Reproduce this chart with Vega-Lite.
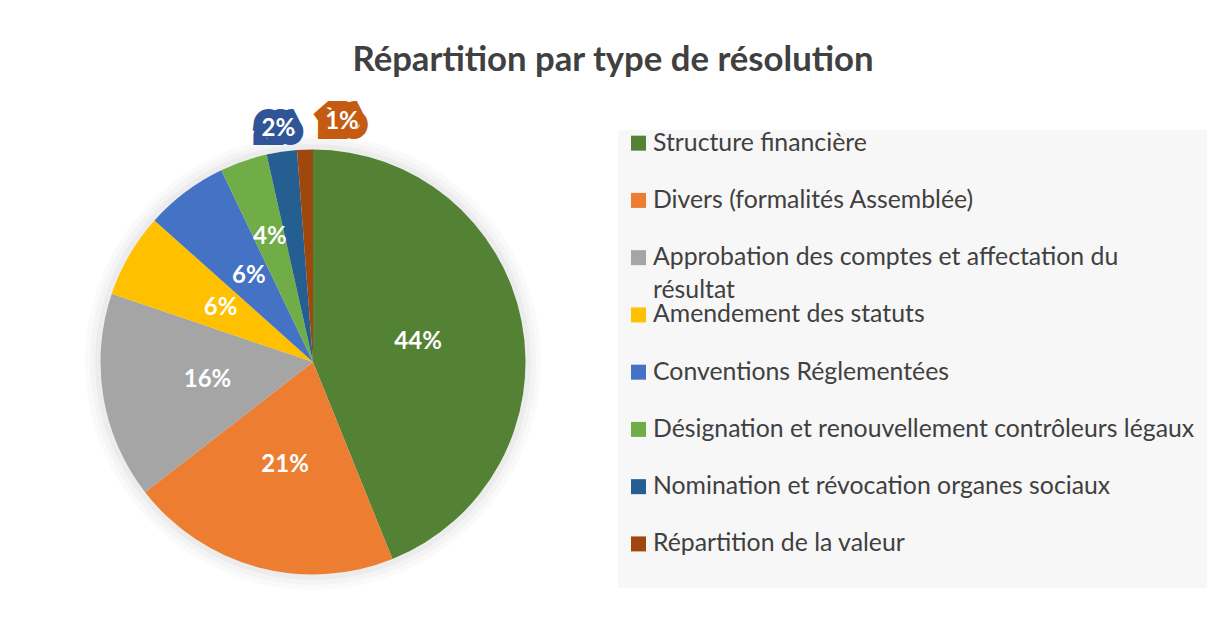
{
  "$schema": "https://vega.github.io/schema/vega-lite/v6.json",
  "background": "white",
  "padding": {"left": 19, "top": 43, "right": 0, "bottom": 0},
  "title": {"text": "Répartition par type de résolution", "font": "Lato", "fontSize": 34.7, "fontWeight": "bold", "color": "#404040", "anchor": "middle", "offset": 31},
  "data": {"values": [
    {"type": "Structure financière", "value": 43.9, "label": "44%", "legend": "Structure financière"},
    {"type": "Divers (formalités Assemblée)", "value": 20.6, "label": "21%", "legend": "Divers (formalités Assemblée)"},
    {"type": "Approbation des comptes et affectation du résultat", "value": 15.7, "label": "16%", "legend": "Approbation des comptes et affectation du\nrésultat"},
    {"type": "Amendement des statuts", "value": 6.4, "label": "6%", "legend": "Amendement des statuts"},
    {"type": "Conventions Réglementées", "value": 6.3, "label": "6%", "legend": "Conventions Réglementées"},
    {"type": "Désignation et renouvellement contrôleurs légaux", "value": 3.6, "label": "4%", "legend": "Désignation et renouvellement contrôleurs légaux"},
    {"type": "Nomination et révocation organes sociaux", "value": 2.3, "label": "2%", "legend": "Nomination et révocation organes sociaux"},
    {"type": "Répartition de la valeur", "value": 1.2, "label": "1%", "legend": "Répartition de la valeur"}
  ]},
  "bounds": "flush",
  "spacing": 11,
  "hconcat": [
    {
      "width": 588,
      "height": 464,
      "encoding": {
        "theta": {"field": "value", "type": "quantitative", "stack": true},
        "order": {"field": "value", "type": "quantitative", "sort": "descending"},
        "detail": {"field": "type", "type": "nominal"}
      },
      "layer": [
        {"mark": {"type": "arc", "radius": 228, "color": "#000000", "opacity": 0.018}},
        {"mark": {"type": "arc", "radius": 223, "color": "#000000", "opacity": 0.025}},
        {"mark": {"type": "arc", "radius": 218, "color": "#000000", "opacity": 0.032}},
        {
          "mark": {"type": "arc", "radius": 212.5},
          "encoding": {
            "color": {"field": "type", "type": "nominal", "legend": null,
              "scale": {
                "domain": ["Structure financière", "Divers (formalités Assemblée)", "Approbation des comptes et affectation du résultat", "Amendement des statuts", "Conventions Réglementées", "Désignation et renouvellement contrôleurs légaux", "Nomination et révocation organes sociaux", "Répartition de la valeur"],
                "range": ["#548235", "#ED7D31", "#A5A5A5", "#FFC000", "#4472C4", "#70AD47", "#255E91", "#9E480E"]
              }
            }
          }
        },
        {
          "mark": {"type": "text", "radius": 107, "font": "Lato", "fontSize": 24, "fontWeight": "bold", "color": "#FFFFFF"},
          "encoding": {
            "text": {"condition": {"test": "datum.value > 5", "field": "label"}, "value": ""}
          }
        },
        {
          "mark": {"type": "text", "radius": 132, "font": "Lato", "fontSize": 24, "fontWeight": "bold", "color": "#FFFFFF"},
          "encoding": {
            "text": {"condition": {"test": "datum.type === 'Désignation et renouvellement contrôleurs légaux'", "field": "label"}, "value": ""}
          }
        },
        {
          "mark": {"type": "text", "radius": 236, "font": "Lato", "fontSize": 24, "fontWeight": "bold", "fill": "#2F5597", "stroke": "#2F5597", "strokeWidth": 18, "strokeJoin": "miter", "strokeMiterLimit": 1.5},
          "encoding": {
            "text": {"condition": {"test": "datum.type === 'Nomination et révocation organes sociaux'", "field": "label"}, "value": ""}
          }
        },
        {
          "mark": {"type": "text", "radius": 236, "font": "Lato", "fontSize": 24, "fontWeight": "bold", "color": "#FFFFFF"},
          "encoding": {
            "text": {"condition": {"test": "datum.type === 'Nomination et révocation organes sociaux'", "field": "label"}, "value": ""}
          }
        },
        {
          "mark": {"type": "text", "radius": 240, "dx": 38, "font": "Lato", "fontSize": 24, "fontWeight": "bold", "fill": "#C55A11", "stroke": "#C55A11", "strokeWidth": 20, "strokeJoin": "miter", "strokeMiterLimit": 1.5},
          "encoding": {
            "text": {"condition": {"test": "datum.type === 'Répartition de la valeur'", "field": "label"}, "value": ""}
          }
        },
        {
          "mark": {"type": "text", "radius": 240, "dx": 38, "font": "Lato", "fontSize": 24, "fontWeight": "bold", "color": "#FFFFFF"},
          "encoding": {
            "text": {"condition": {"test": "datum.type === 'Répartition de la valeur'", "field": "label"}, "value": ""}
          }
        }
      ]
    },
    {
      "width": 589,
      "height": 458,
      "view": {"fill": "#F7F7F7", "stroke": null},
      "encoding": {
        "y": {"field": "type", "type": "nominal", "sort": null, "axis": null,
          "scale": {"type": "point", "padding": 0.5, "align": 0.23}}
      },
      "layer": [
        {
          "mark": {"type": "square", "size": 225, "x": 20.5, "opacity": 1},
          "encoding": {
            "color": {"field": "type", "type": "nominal", "legend": null,
              "scale": {
                "domain": ["Structure financière", "Divers (formalités Assemblée)", "Approbation des comptes et affectation du résultat", "Amendement des statuts", "Conventions Réglementées", "Désignation et renouvellement contrôleurs légaux", "Nomination et révocation organes sociaux", "Répartition de la valeur"],
                "range": ["#548235", "#ED7D31", "#A5A5A5", "#FFC000", "#4472C4", "#70AD47", "#255E91", "#9E480E"]
              }
            }
          }
        },
        {
          "mark": {"type": "text", "x": 35, "align": "left", "baseline": "top", "dy": -12.5, "font": "Lato", "fontSize": 24.8, "color": "#404040", "lineBreak": "\n", "lineHeight": 33},
          "encoding": {"text": {"field": "legend", "type": "nominal"}}
        }
      ]
    }
  ],
  "config": {"view": {"stroke": null}, "font": "Lato"}
}
